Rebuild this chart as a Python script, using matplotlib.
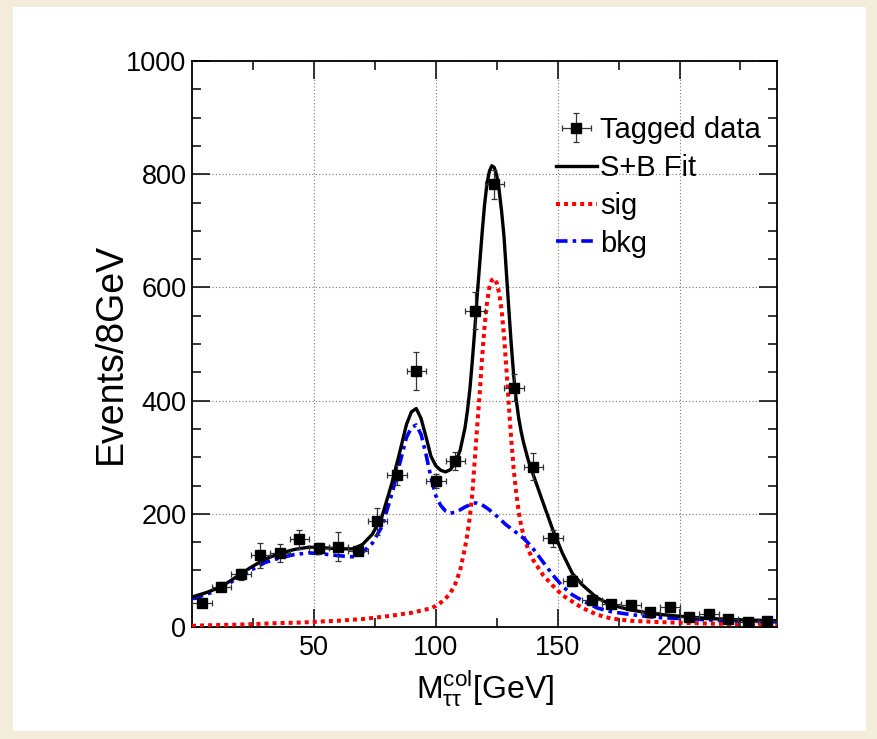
import matplotlib.pyplot as plt
import numpy as np
from matplotlib.patches import Rectangle

plt.rcParams['font.family'] = ['Liberation Sans', 'DejaVu Sans']
plt.rcParams['mathtext.fontset'] = 'custom'
plt.rcParams['mathtext.rm'] = 'Liberation Sans'
plt.rcParams['mathtext.it'] = 'Liberation Sans'

# tagged data (8 GeV bins)
data_x = [4, 12, 20, 28, 36, 44, 52, 60, 68, 76, 84, 92, 100, 108, 116,
          124, 132, 140, 148, 156, 164, 172, 180, 188, 196, 204, 212, 220, 228, 236]
data_y = [43, 71, 93, 127, 130, 155, 139, 142, 134, 187, 269, 452, 258, 294, 559,
          782, 423, 283, 157, 82, 48, 40, 38, 27, 36, 17, 23, 14, 9, 10]
data_err = [7, 8, 10, 22, 16, 17, 10, 26, 7, 24, 18, 34, 12, 16, 32,
            25, 24, 24, 15, 9, 6, 5, 5, 4, 5, 4, 4, 4, 3, 3]
bin_half = 4

# fit curves
fit_x = [0, 6, 12, 18, 24, 30, 36, 42, 48, 54, 60, 66, 70, 74, 78, 82, 85, 88, 90, 92,
         94, 96, 98, 100, 102, 104, 106, 108, 110, 112, 113, 114, 115, 116, 117, 118, 119,
         120, 121, 122, 123, 124, 125, 126, 127, 128, 129, 130, 131, 132, 133, 134, 135,
         136, 138, 140, 144, 148, 152, 156, 160, 166, 172, 180, 190, 200, 212, 226, 240]
bkg = [50, 58, 67, 85, 100, 114, 122, 128, 131, 129, 126, 124, 132, 148, 178, 235, 285, 335, 352, 357,
       340, 305, 265, 232, 215, 205, 201, 203, 207, 212, 214, 216, 218, 219, 219, 218, 216,
       213, 210, 207, 203, 200, 196, 192, 188, 184, 180, 177, 173, 170, 167, 164, 160,
       157, 148, 138, 115, 92, 72, 57, 47, 34, 27, 22, 17, 15, 12.5, 10.5, 9]
sig = [2, 3, 3.5, 4, 5, 6, 7, 7.5, 8.5, 10, 11, 13, 14, 16, 18, 20, 22, 24, 25, 27,
       29, 31, 33, 37, 43, 50, 60, 76, 100, 140, 165, 195, 235, 295, 355, 410, 475,
       530, 572, 600, 613, 616, 608, 590, 560, 515, 455, 390, 330, 278, 237, 205, 180,
       162, 136, 118, 92, 73, 56, 45, 34, 22, 15, 11, 9, 7.5, 6, 5, 4.5]
total = [53, 61, 71, 88, 105, 120, 130, 137, 141, 140, 138, 138, 146, 164, 196, 254, 305, 358, 380, 386,
         368, 336, 302, 285, 277, 274, 278, 290, 312, 352, 382, 420, 470, 525, 585, 640, 695,
         745, 783, 805, 815, 812, 798, 772, 735, 690, 625, 560, 498, 443, 402, 370, 346,
         326, 294, 269, 220, 172, 130, 95, 75, 52, 39, 30, 23, 19, 15, 12.5, 11]

fig = plt.figure(figsize=(8.77, 7.39), dpi=100, facecolor='#f4ecdb')
panel = Rectangle((13 / 877, 8 / 739), 853 / 877, 724 / 739, transform=fig.transFigure,
                  facecolor='white', edgecolor='none', zorder=-10)
fig.add_artist(panel)
ax = fig.add_axes([192 / 877, 1 - 627 / 739, 585 / 877, 566 / 739])

l_sig, = ax.plot(fit_x, sig, color='#ff0000', lw=2.9, ls=(0, (1, 1)), label='sig', zorder=3)
l_bkg, = ax.plot(fit_x, bkg, color='#0000ff', lw=2.6, ls=(0, (3.2, 1.4, 1, 1.4)), label='bkg', zorder=3)
l_fit, = ax.plot(fit_x, total, color='black', lw=2.4, label='S+B Fit', zorder=4)
eb = ax.errorbar(data_x, data_y, xerr=bin_half, yerr=data_err, fmt='s', color='black',
                 ecolor='#333333', elinewidth=0.9, capsize=2, capthick=0.9, markersize=6.5,
                 label='Tagged data', zorder=5)

ax.set_xlim(0, 240)
ax.set_ylim(0, 1000)
ax.set_xticks([50, 100, 150, 200])
ax.set_xticks([25, 75, 125, 175, 225], minor=True)
ax.set_yticks(np.arange(0, 1001, 200))
ax.set_yticks(np.arange(50, 1000, 50), minor=True)
ax.tick_params(which='both', direction='in', top=True, right=True, width=1.1, labelsize=19.5)
ax.tick_params(which='major', length=13)
ax.tick_params(which='minor', length=6.5)
ax.tick_params(axis='y', pad=4)
ax.tick_params(axis='x', pad=6)
ax.grid(which='major', color='#777777', ls=(0, (1, 2)), lw=0.8)
for s in ax.spines.values():
    s.set_linewidth(1.3)

ax.set_xlabel(r'M$_{\mathrm{\tau\tau}}^{\mathrm{col}}$[GeV]', fontsize=23, labelpad=5)
ax.set_ylabel('Events/8GeV', fontsize=27)
ax.yaxis.set_label_coords(-0.108, 0.483)

ax.legend([eb, l_fit, l_sig, l_bkg], ['Tagged data', 'S+B Fit', 'sig', 'bkg'],
          loc='upper left', bbox_to_anchor=(0.622, 0.903), frameon=False, fontsize=21,
          handlelength=1.4, handletextpad=0.12, labelspacing=0.34, borderaxespad=0,
          borderpad=0)

plt.savefig('out.png', dpi=100, facecolor=fig.get_facecolor())
